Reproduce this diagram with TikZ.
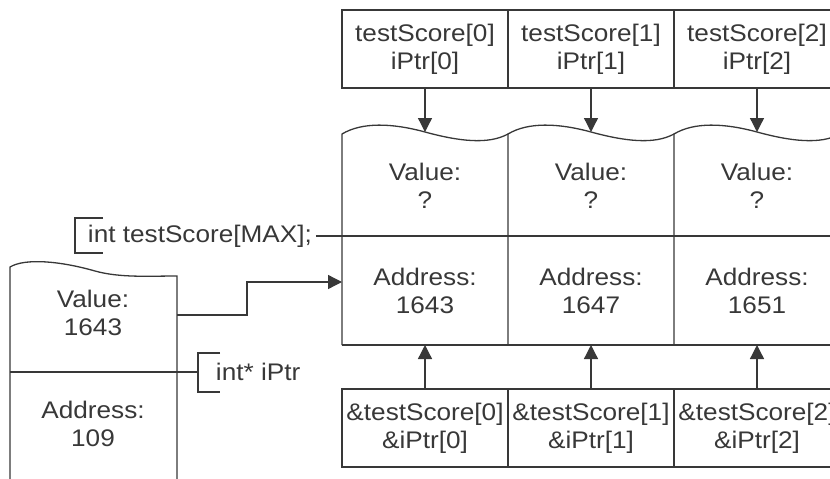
\documentclass[tikz,border=0pt]{standalone}
\usepackage{fontspec}
\setmainfont{Liberation Sans}[FakeStretch=1.09]
\usetikzlibrary{arrows.meta}

\begin{document}
\begin{tikzpicture}[x=1pt, y=-1pt, >={Triangle[length=14pt,width=14pt]}, line width=1.3pt, color=black!78,
    every node/.style={font=\fontsize{24}{28}\selectfont, align=center},
    cellbox/.style={draw, minimum width=166pt, minimum height=78pt, inner sep=0pt}]
  \useasboundingbox (0,0) rectangle (830,479);
  \clip (0,0) rectangle (830,479);

  % array testScore[MAX]
  \foreach \i/\addr in {0/1643, 1/1647, 2/1651} {
    \pgfmathsetmacro{\xl}{342+166*\i}
    % cell with wavy top
    \draw (\xl,345) -- (\xl,134) .. controls ({\xl+20},122) and ({\xl+50},123) .. ({\xl+83},132)
      .. controls ({\xl+116},141) and ({\xl+146},145) .. ({\xl+166},134);
    \node (val\i) at ({\xl+83},186) {Value:\\?};
    \node (addr\i) at ({\xl+83},291) {Address:\\\addr};
    \coordinate (wave\i) at ({\xl+83},132);
    \coordinate (base\i) at ({\xl+83},345);
    % names above, addresses below
    \node[cellbox] (top\i) at ({\xl+83},49) {testScore[\i]\\iPtr[\i]};
    \node[cellbox] (bot\i) at ({\xl+83},428) {\&testScore[\i]\\\&iPtr[\i]};
    \draw[->] (top\i) -- (wave\i);
    \draw[->] (bot\i) -- (base\i);
  }
  \coordinate (memleft) at (342,236);
  \draw (memleft) -- (850,236);
  \draw (342,345) -- (850,345);

  % declaration of the array
  \node[anchor=west] (decl) at (84,236) {int testScore[MAX];};
  \draw (103,218) -- (75,218) -- (75,253) -- (103,253);
  \draw (decl.east) -- (memleft);

  % pointer iPtr
  \draw (10,490) -- (10,267) .. controls (25,258) and (60,261) .. (95,271)
    .. controls (120,278) and (150,276) .. (177,276) -- (177,490);
  \node (pval) at (93,313) {Value:\\1643};
  \node (paddr) at (93,424) {Address:\\109};
  \coordinate (pdiv) at (10,372);
  \coordinate (pbr) at (198,372);
  \draw (pdiv) -- (pbr);
  \node[anchor=west] (pdecl) at (212,372) {int* iPtr};
  \draw (220,353) -- (pbr |- 0,353) -- (pbr |- 0,392) -- (220,392);

  % iPtr points to testScore[0]
  \coordinate (pout) at (177,315);
  \coordinate (pin) at (342,282);
  \draw[->] (pout) -- ++(70,0) |- (pin);
\end{tikzpicture}
\end{document}
